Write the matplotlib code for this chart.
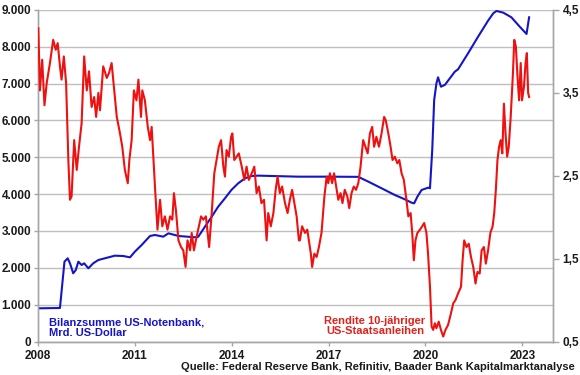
import matplotlib
matplotlib.use("Agg")
import matplotlib.pyplot as plt
from matplotlib.ticker import FuncFormatter, FixedLocator

# ---------------- data ----------------
fed_years = [2008.01, 2008.68, 2008.82, 2008.92, 2008.99, 2009.09, 2009.17, 2009.25,
             2009.35, 2009.43, 2009.56, 2009.71, 2009.87, 2010.07, 2010.38, 2010.64,
             2010.85, 2011.00, 2011.21, 2011.47, 2011.62, 2011.88, 2012.04, 2012.35,
             2012.86, 2012.96, 2013.17, 2013.38, 2013.58, 2013.79, 2013.99, 2014.20,
             2014.41, 2014.62, 2014.82, 2016.06, 2016.99, 2017.92, 2018.23, 2018.64,
             2019.05, 2019.36, 2019.57, 2019.65, 2019.75, 2019.88, 2020.08, 2020.14,
             2020.21, 2020.27, 2020.34, 2020.39, 2020.48, 2020.60, 2020.91, 2021.01,
             2021.32, 2021.63, 2021.94, 2022.10, 2022.20, 2022.41, 2022.66, 2022.92,
             2023.13, 2023.21]
fed_assets = [901, 910, 2167, 2259, 2123, 1852, 1941, 2167,
              2077, 2123, 1987, 2123, 2213, 2259, 2330, 2321,
              2285, 2439, 2620, 2865, 2892, 2846, 2937, 2865,
              2829, 2840, 3117, 3389, 3660, 3888, 4114, 4295,
              4431, 4494, 4503, 4475, 4475, 4470, 4340, 4160,
              3978, 3861, 3769, 3751, 3932, 4114, 4176, 4160,
              5200, 6557, 7010, 7173, 6918, 6965, 7326, 7390,
              7825, 8276, 8711, 8911, 8974, 8928, 8802, 8547,
              8349, 8802]

yield_years = [2008.01, 2008.06, 2008.13, 2008.20, 2008.27, 2008.37, 2008.47, 2008.55,
               2008.61, 2008.68, 2008.73, 2008.80, 2008.87, 2008.94, 2008.99, 2009.04,
               2009.12, 2009.20, 2009.27, 2009.35, 2009.43, 2009.51, 2009.58, 2009.66,
               2009.74, 2009.80, 2009.87, 2009.92, 2010.02, 2010.13, 2010.20, 2010.28,
               2010.36, 2010.44, 2010.54, 2010.61, 2010.69, 2010.78, 2010.83, 2010.90,
               2010.97, 2011.05, 2011.11, 2011.19, 2011.23, 2011.31, 2011.40, 2011.47,
               2011.52, 2011.57, 2011.64, 2011.70, 2011.78, 2011.85, 2011.93, 2012.01,
               2012.09, 2012.16, 2012.21, 2012.27, 2012.35, 2012.43, 2012.50, 2012.57,
               2012.63, 2012.71, 2012.76, 2012.83, 2012.89, 2012.96, 2013.05, 2013.12,
               2013.20, 2013.30, 2013.38, 2013.46, 2013.53, 2013.60, 2013.67, 2013.74,
               2013.79, 2013.84, 2013.91, 2013.98, 2014.02, 2014.08, 2014.15, 2014.22,
               2014.31, 2014.39, 2014.46, 2014.53, 2014.62, 2014.70, 2014.77, 2014.84,
               2014.92, 2015.00, 2015.08, 2015.13, 2015.21, 2015.29, 2015.36, 2015.42,
               2015.49, 2015.56, 2015.65, 2015.73, 2015.80, 2015.87, 2015.94, 2016.01,
               2016.08, 2016.11, 2016.18, 2016.27, 2016.34, 2016.39, 2016.45, 2016.49,
               2016.56, 2016.63, 2016.70, 2016.78, 2016.87, 2016.94, 2016.99, 2017.04,
               2017.11, 2017.17, 2017.25, 2017.30, 2017.37, 2017.43, 2017.50, 2017.58,
               2017.64, 2017.71, 2017.78, 2017.85, 2017.92, 2017.99, 2018.07, 2018.14,
               2018.21, 2018.28, 2018.35, 2018.41, 2018.48, 2018.56, 2018.64, 2018.72,
               2018.77, 2018.85, 2018.92, 2018.98, 2019.05, 2019.13, 2019.19, 2019.26,
               2019.33, 2019.41, 2019.47, 2019.54, 2019.59, 2019.64, 2019.69, 2019.75,
               2019.83, 2019.90, 2019.96, 2020.03, 2020.08, 2020.14, 2020.19, 2020.24,
               2020.29, 2020.34, 2020.41, 2020.48, 2020.55, 2020.62, 2020.70, 2020.79,
               2020.86, 2020.93, 2021.01, 2021.10, 2021.15, 2021.20, 2021.27, 2021.34,
               2021.41, 2021.48, 2021.55, 2021.61, 2021.68, 2021.74, 2021.81, 2021.87,
               2021.94, 2022.01, 2022.08, 2022.13, 2022.18, 2022.23, 2022.28, 2022.33,
               2022.38, 2022.43, 2022.48, 2022.53, 2022.58, 2022.64, 2022.71, 2022.75,
               2022.80, 2022.85, 2022.90, 2022.95, 2022.99, 2023.05, 2023.10, 2023.14,
               2023.18, 2023.21]
yield_10y = [4.28, 3.53, 3.90, 3.35, 3.62, 3.86, 4.14, 4.02,
             4.10, 3.82, 3.66, 3.94, 3.62, 2.69, 2.21, 2.25,
             2.93, 2.57, 2.85, 3.13, 3.94, 3.53, 3.76, 3.33,
             3.45, 3.21, 3.50, 3.29, 3.82, 3.68, 3.74, 3.86,
             3.53, 3.21, 3.01, 2.85, 2.57, 2.41, 2.69, 2.93,
             3.53, 3.41, 3.66, 3.21, 3.53, 3.41, 3.09, 2.93,
             3.09, 2.73, 2.25, 1.85, 2.21, 1.89, 2.01, 1.85,
             2.01, 1.97, 2.29, 2.09, 1.72, 1.64, 1.60, 1.40,
             1.72, 1.60, 1.81, 1.60, 1.72, 1.85, 2.01, 1.97,
             2.01, 1.64, 2.05, 2.53, 2.69, 2.85, 2.93, 2.61,
             2.49, 2.81, 2.73, 2.97, 3.01, 2.69, 2.73, 2.77,
             2.61, 2.45, 2.61, 2.45, 2.53, 2.61, 2.29, 2.37,
             2.17, 2.21, 1.72, 2.05, 1.89, 2.05, 2.33, 2.49,
             2.29, 2.37, 2.17, 2.05, 2.21, 2.33, 2.17, 2.01,
             1.72, 1.72, 1.89, 1.81, 1.85, 1.72, 1.56, 1.40,
             1.56, 1.52, 1.64, 1.81, 2.25, 2.49, 2.41, 2.53,
             2.41, 2.53, 2.33, 2.21, 2.29, 2.17, 2.33, 2.25,
             2.11, 2.29, 2.37, 2.33, 2.41, 2.61, 2.93, 2.85,
             2.77, 3.01, 3.09, 2.85, 2.97, 2.85, 3.01, 3.21,
             3.17, 3.01, 2.85, 2.69, 2.73, 2.65, 2.69, 2.53,
             2.45, 2.21, 2.01, 2.05, 1.81, 1.48, 1.72, 1.81,
             1.85, 1.89, 1.93, 1.81, 1.56, 1.16, 0.68, 0.64,
             0.72, 0.66, 0.74, 0.64, 0.56, 0.64, 0.70, 0.84,
             0.96, 1.00, 1.08, 1.16, 1.48, 1.72, 1.64, 1.68,
             1.52, 1.40, 1.20, 1.34, 1.32, 1.60, 1.64, 1.44,
             1.60, 1.81, 1.89, 2.05, 2.33, 2.69, 2.85, 2.93,
             2.77, 3.37, 3.01, 2.73, 2.85, 3.21, 3.74, 4.14,
             4.06, 3.70, 3.41, 3.86, 3.41, 3.57, 3.86, 3.98,
             3.50, 3.45]

x_ticks = [2008, 2011, 2014, 2017, 2020, 2023]
left_ticks = [0, 1000, 2000, 3000, 4000, 5000, 6000, 7000, 8000, 9000]
right_ticks = [0.5, 1.5, 2.5, 3.5, 4.5]

label_fed = "Bilanzsumme US-Notenbank,\nMrd. US-Dollar"
label_yield = "Rendite 10-jähriger\nUS-Staatsanleihen"
source = "Quelle: Federal Reserve Bank, Refinitiv, Baader Bank Kapitalmarktanalyse"

# ---------------- style ----------------
FONT = "Liberation Sans"
BLUE = "#1515c8"
RED = "#ee1111"
AXC = "#a6a6a6"
GRID = "#bfbfbf"

W, H = 580, 375
fig = plt.figure(figsize=(W / 100, H / 100), dpi=100)
ax = fig.add_axes([38 / W, 1 - 341.5 / H, (553 - 38) / W, (341.5 - 10) / H])
ax2 = ax.twinx()

ax.plot(fed_years, fed_assets, color=BLUE, lw=1.5, zorder=3)
ax2.plot(yield_years, yield_10y, color=RED, lw=1.5, zorder=3)

ax.set_xlim(2008, 2023.95)
ax.set_ylim(0, 9000)
ax2.set_ylim(0.5, 4.5)

ax.xaxis.set_major_locator(FixedLocator(x_ticks))
ax.yaxis.set_major_locator(FixedLocator(left_ticks))
ax2.yaxis.set_major_locator(FixedLocator(right_ticks))

ax.yaxis.set_major_formatter(FuncFormatter(lambda v, p: f"{int(v):,}".replace(",", ".")))
ax2.yaxis.set_major_formatter(FuncFormatter(lambda v, p: f"{v:.1f}".replace(".", ",")))
ax.xaxis.set_major_formatter(FuncFormatter(lambda v, p: f"{int(round(v))}"))

ax.grid(axis="y", color=GRID, lw=1.0, zorder=0)
ax.set_axisbelow(True)

for a in (ax, ax2):
    a.spines["top"].set_visible(False)
    for s in ("left", "right", "bottom"):
        a.spines[s].set_color(AXC)
        a.spines[s].set_linewidth(1.0)

ax.tick_params(axis="both", direction="out", length=3, color=AXC, width=1.0, pad=2,
               labelsize=8.5)
ax2.tick_params(axis="y", direction="out", length=4, color=AXC, width=1.0, pad=3,
                labelsize=8.5)
ax.tick_params(axis="x", pad=3)

for lab in ax.get_xticklabels() + ax.get_yticklabels() + ax2.get_yticklabels():
    lab.set_fontfamily(FONT)
    lab.set_fontweight("bold")
    lab.set_color("#1a1a1a")

fig.text(49 / W, 1 - 328 / H, label_fed, color=BLUE, fontsize=8, fontweight="bold",
         family=FONT, ha="left", va="center", linespacing=1.05)
fig.text(375 / W, 1 - 326 / H, label_yield, color="#e3201b", fontsize=8, fontweight="bold",
         family=FONT, ha="center", va="center", linespacing=1.0)
fig.text(575 / W, 1 - 367 / H, source, color="#1a1a1a", fontsize=8, fontweight="bold",
         family=FONT, ha="right", va="center")

fig.savefig("out.png", dpi=100)
